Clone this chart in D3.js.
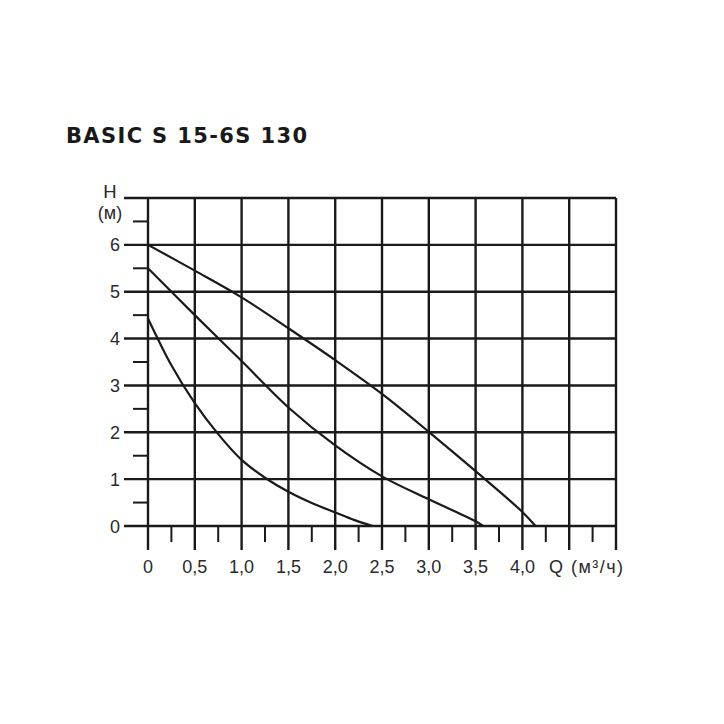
<!DOCTYPE html>
<html><head><meta charset="utf-8">
<script src="https://cdn.jsdelivr.net/npm/d3@7"></script>
<style>body{margin:0;background:#fff}</style>
</head><body>
<script>
const title = "BASIC S 15-6S 130";
const xTicks = [0,0.5,1,1.5,2,2.5,3,3.5,4,4.5,5];
const xTickLabels = ["0","0,5","1,0","1,5","2,0","2,5","3,0","3,5","4,0"];
const yTicks = [0,1,2,3,4,5,6,7];
const yTickLabels = ["0","1","2","3","4","5","6"];
const xMinor = [0.25,0.75,1.25,1.75,2.25,2.75,3.25,3.75,4.25,4.75];
const yMinor = [0.5,1.5,2.5,3.5,4.5,5.5,6.5];
const curveHigh = [[0,6.0],[0.5,5.45],[1.0,4.88],[1.5,4.22],[2.0,3.54],[2.5,2.82],[3.0,2.01],[3.5,1.17],[4.0,0.3],[4.14,0]];
const curveMid = [[0,5.5],[0.5,4.5],[1.0,3.52],[1.5,2.53],[2.0,1.72],[2.5,1.06],[3.0,0.57],[3.5,0.1],[3.58,0]];
const curveLow = [[0,4.43],[0.25,3.43],[0.5,2.62],[0.75,1.96],[1.0,1.41],[1.25,1.03],[1.5,0.73],[1.75,0.49],[2.0,0.29],[2.2,0.13],[2.4,0]];

const W=724,H=724;
const svg=d3.select("body").append("svg").attr("width",W).attr("height",H);
const x=d3.scaleLinear().domain([0,5]).range([148,616]);
const y=d3.scaleLinear().domain([0,7]).range([526,198]);
const ink="#1a1a1a";

svg.append("text").attr("x",66).attr("y",143).text(title)
  .attr("font-family","DejaVu Sans").attr("font-weight","bold").attr("font-size",21)
  .attr("textLength",241).attr("lengthAdjust","spacing").attr("fill",ink);

const g=svg.append("g");
g.selectAll("line.v").data(xTicks).join("line")
  .attr("x1",d=>x(d)).attr("x2",d=>x(d)).attr("y1",y(7)).attr("y2",y(0)+24)
  .attr("stroke",ink).attr("stroke-width",2.4);
g.selectAll("line.h").data(yTicks).join("line")
  .attr("y1",d=>y(d)).attr("y2",d=>y(d)).attr("x1",x(0)-24).attr("x2",x(5))
  .attr("stroke",ink).attr("stroke-width",2.4);
g.selectAll("line.xm").data(xMinor).join("line")
  .attr("x1",d=>x(d)).attr("x2",d=>x(d)).attr("y1",y(0)).attr("y2",y(0)+16)
  .attr("stroke",ink).attr("stroke-width",2);
g.selectAll("line.ym").data(yMinor).join("line")
  .attr("y1",d=>y(d)).attr("y2",d=>y(d)).attr("x1",x(0)-15).attr("x2",x(0))
  .attr("stroke",ink).attr("stroke-width",2);

const lf="Liberation Sans", lc="#2a2a2a", fs=18;
svg.selectAll("text.xl").data(xTickLabels).join("text")
  .attr("x",(d,i)=>x(xTicks[i])).attr("y",573).attr("text-anchor","middle")
  .attr("font-family",lf).attr("font-size",fs).attr("fill",lc).text(d=>d);
svg.selectAll("text.yl").data(yTickLabels).join("text")
  .attr("x",120).attr("y",(d,i)=>y(i)+6.5).attr("text-anchor","end")
  .attr("font-family",lf).attr("font-size",fs).attr("fill",lc).text(d=>d);
svg.append("text").attr("x",549).attr("y",573).attr("font-family",lf).attr("font-size",fs)
  .attr("textLength",74).attr("lengthAdjust","spacing").attr("fill",lc).text("Q (м³/ч)");
svg.append("text").attr("x",110).attr("y",198).attr("text-anchor","middle").attr("font-family",lf).attr("font-size",18.5).attr("fill",lc).text("H");
svg.append("text").attr("x",110).attr("y",219).attr("text-anchor","middle").attr("font-family",lf).attr("font-size",fs).attr("fill",lc).text("(м)");

const line=d3.line().x(d=>x(d[0])).y(d=>y(d[1])).curve(d3.curveCatmullRom.alpha(0.5));
svg.selectAll("path.c").data([curveHigh,curveMid,curveLow]).join("path")
  .attr("d",line).attr("fill","none").attr("stroke",ink).attr("stroke-width",2.2);
</script>
</body></html>
